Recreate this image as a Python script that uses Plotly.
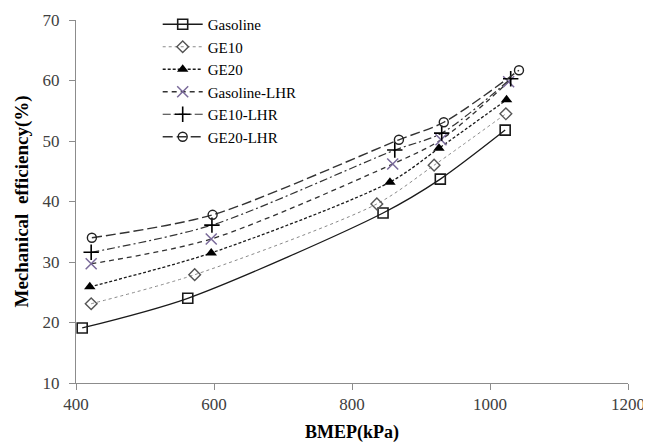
import plotly.graph_objects as go

series_names = ["Gasoline", "GE10", "GE20", "Gasoline-LHR", "GE10-LHR", "GE20-LHR"]
bmep = {
    "Gasoline":     [409, 562, 845, 928, 1022],
    "GE10":         [422, 572, 836, 919, 1023],
    "GE20":         [420, 596, 855, 926, 1024],
    "Gasoline-LHR": [422, 596, 859, 929, 1027],
    "GE10-LHR":     [422, 597, 862, 930, 1030],
    "GE20-LHR":     [423, 598, 868, 933, 1042],
}
eff = {
    "Gasoline":     [19.1, 24.0, 38.1, 43.7, 51.8],
    "GE10":         [23.1, 27.9, 39.6, 46.0, 54.5],
    "GE20":         [25.9, 31.5, 43.2, 48.8, 56.8],
    "Gasoline-LHR": [29.7, 33.8, 46.2, 50.2, 59.8],
    "GE10-LHR":     [31.6, 36.1, 48.5, 51.3, 60.3],
    "GE20-LHR":     [34.0, 37.8, 50.2, 53.1, 61.7],
}
x_ticks = [400, 600, 800, 1000, 1200]
y_ticks = [10, 20, 30, 40, 50, 60, 70]

FONT = "Liberation Serif"

styles = {
    "Gasoline":     dict(dash="solid", lc="#1a1a1a", lw=1.3, sym="square-open", mc="#1a1a1a", ms=10, mw=1.6),
    "GE10":         dict(dash="dot", lc="#8a8a8a", lw=1.0, sym="diamond-open", mc="#555555", ms=9, mw=1.4),
    "GE20":         dict(dash="3px,2px", lc="#1a1a1a", lw=1.3, sym="triangle-up", mc="#000000", ms=10, mw=0),
    "Gasoline-LHR": dict(dash="5px,4px", lc="#333333", lw=1.3, sym="x-thin", mc="#7a6a9a", ms=11, mw=1.5),
    "GE10-LHR":     dict(dash="8px,3px,2px,3px", lc="#333333", lw=1.2, sym="cross-thin", mc="#000000", ms=11, mw=1.6),
    "GE20-LHR":     dict(dash="10px,4px", lc="#333333", lw=1.4, sym="circle-open", mc="#222222", ms=9, mw=1.4),
}

fig = go.Figure()
for name in series_names:
    s = styles[name]
    fig.add_trace(go.Scatter(
        x=bmep[name], y=eff[name], name=name, mode="lines+markers",
        line=dict(color=s["lc"], width=s["lw"], dash=s["dash"], shape="spline", smoothing=0.8),
        marker=dict(symbol=s["sym"], size=s["ms"], color=s["mc"],
                    line=dict(color=s["mc"], width=s["mw"])),
    ))

axis_common = dict(
    showgrid=False, zeroline=False, showline=True, linecolor="#8c8c8c", linewidth=1,
    ticks="outside", ticklen=6, tickcolor="#8c8c8c", automargin=False,
    tickfont=dict(family=FONT, size=17, color="#404040"),
)
fig.update_xaxes(range=[400, 1200], tickvals=x_ticks, ticklabelstandoff=0,
                 title=dict(text="<b>BMEP(kPa)</b>", font=dict(family=FONT, size=18, color="#000"), standoff=11),
                 **axis_common)
fig.update_yaxes(range=[10, 70], tickvals=y_ticks, ticklabelstandoff=6,
                 title=dict(text="<b>Mechanical  efficiency(%)</b>", font=dict(family=FONT, size=19, color="#000"), standoff=8),
                 **axis_common)

# page body has an 8px margin, so the figure is sized to fit inside the 651x444 window
fig.update_layout(
    width=643, height=436,
    margin=dict(l=68, r=23, t=12, b=61, autoexpand=False),
    plot_bgcolor="white", paper_bgcolor="white",
    legend=dict(x=0.148, y=1.0, xanchor="left", yanchor="top", yref="container",
                font=dict(family=FONT, size=15, color="#000"),
                bgcolor="rgba(0,0,0,0)", tracegroupgap=0, itemwidth=40),
)

fig.write_html("out.html")
